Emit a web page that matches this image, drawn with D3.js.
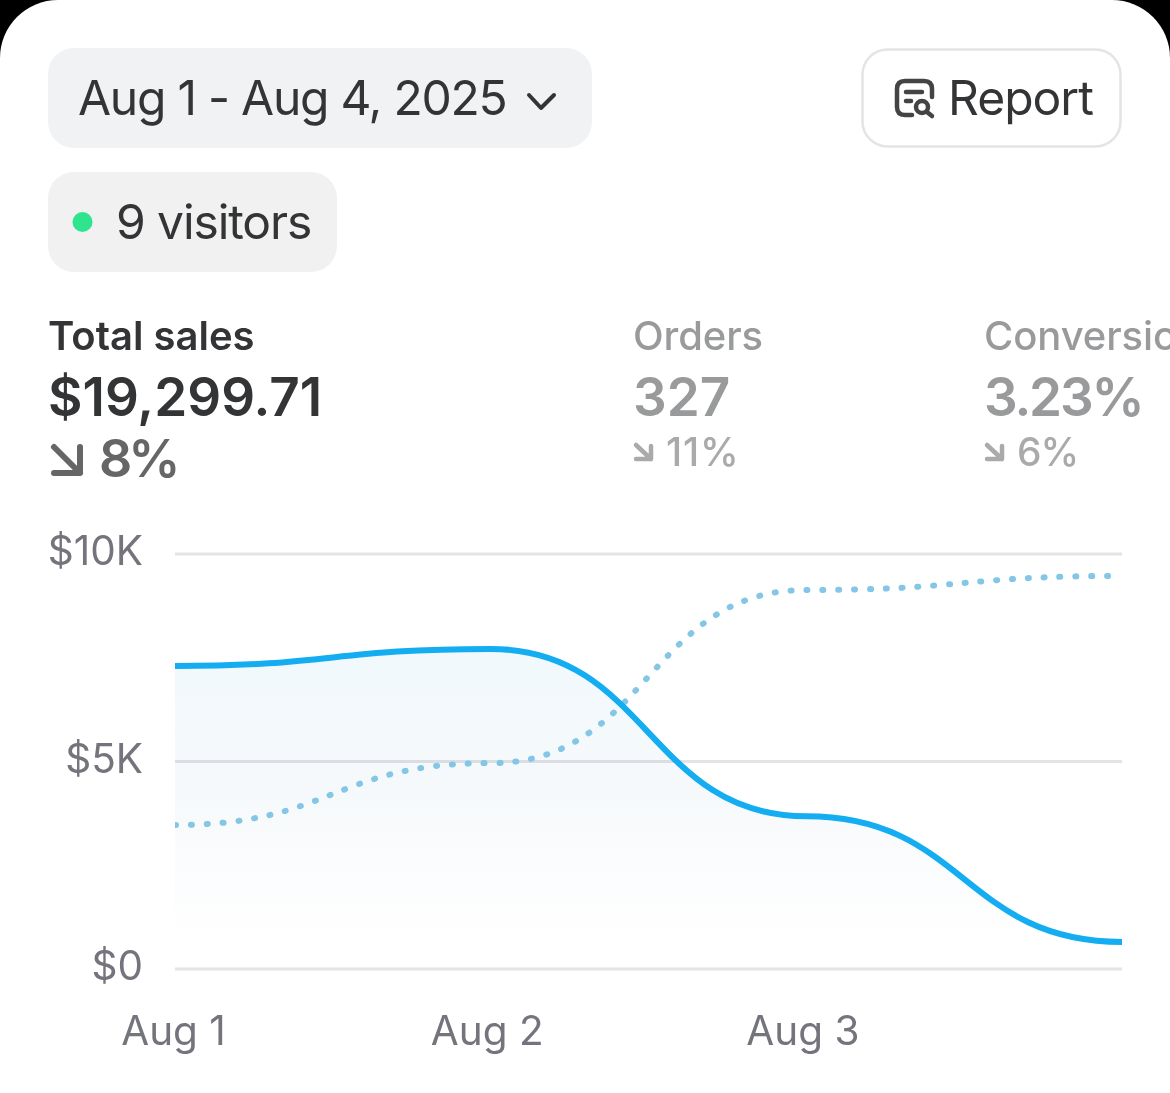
<!DOCTYPE html>
<html>
<head>
<meta charset="utf-8">
<style>
  html, body { margin: 0; padding: 0; background: #fff; overflow: hidden; }
  svg { display: block; font-family: Inter, "Noto Sans", sans-serif; }
</style>
<script src="https://cdn.jsdelivr.net/npm/d3@7"></script>
</head>
<body>
<svg></svg>
<script>
  const days = ['Aug 1', 'Aug 2', 'Aug 3', 'Aug 4'];
  const currentSales = [7290, 7700, 3670, 640];
  const previousSales = [3460, 4950, 9120, 9460];
  const yTicks = [0, 5000, 10000];
  const xTicks = ['Aug 1', 'Aug 2', 'Aug 3'];
  const kpiNames = ['Total sales', 'Orders', 'Conversion'];
  const kpiValues = ['$19,299.71', '327', '3.23%'];
  const kpiChanges = ['8%', '11%', '6%'];

  const width = 1170;
  const height = 1093;
  const margin = { top: 553.5, right: 48, bottom: 124.5, left: 175 };

  const svg = d3.select('svg')
      .attr('width', width)
      .attr('height', height);

  // phone screenshot: black corners behind the white card
  svg.append('rect').attr('width', width).attr('height', 100).attr('fill', '#000');
  svg.append('rect')
      .attr('width', width)
      .attr('height', height + 80)
      .attr('rx', 58)
      .attr('fill', '#fff');

  // header pills
  const ink = '#333436';
  svg.append('rect')
      .attr('x', 48).attr('y', 48).attr('width', 544).attr('height', 100)
      .attr('rx', 26).attr('fill', '#f1f2f4');
  svg.append('text')
      .attr('x', 78).attr('y', 115)
      .attr('font-size', 48).attr('letter-spacing', -1.25).attr('fill', ink)
      .text('Aug 1 - Aug 4, 2025');
  svg.append('path')
      .attr('d', 'M529 95L541 108L554 95')
      .attr('fill', 'none').attr('stroke', ink)
      .attr('stroke-width', 4).attr('stroke-linecap', 'round').attr('stroke-linejoin', 'round');

  svg.append('rect')
      .attr('x', 48).attr('y', 172).attr('width', 289).attr('height', 100)
      .attr('rx', 26).attr('fill', '#f1f1f2');
  svg.append('circle')
      .attr('cx', 82.5).attr('cy', 222).attr('r', 10).attr('fill', '#2ee48f');
  svg.append('text')
      .attr('x', 116).attr('y', 239)
      .attr('font-size', 48).attr('letter-spacing', -1.1).attr('fill', ink)
      .text('9 visitors');

  svg.append('rect')
      .attr('x', 862.5).attr('y', 49.5).attr('width', 258).attr('height', 97)
      .attr('rx', 25).attr('fill', '#fff')
      .attr('stroke', '#e3e4e5').attr('stroke-width', 2.5);
  const icon = svg.append('g')
      .attr('fill', 'none').attr('stroke', '#444').attr('stroke-width', 4.5)
      .attr('stroke-linecap', 'round').attr('stroke-linejoin', 'round');
  icon.append('path').attr('d', 'M912 115H905Q897 115 897 107V89Q897 81 905 81H924Q932 81 932 89V97');
  icon.append('path').attr('d', 'M906 92H922M906 101H911');
  icon.append('circle').attr('cx', 922).attr('cy', 107).attr('r', 6);
  icon.append('path').attr('d', 'M927 112L932 116');
  svg.append('text')
      .attr('x', 948).attr('y', 115)
      .attr('font-size', 48).attr('letter-spacing', -1).attr('fill', ink)
      .text('Report');

  // kpi row
  const kpiX = [49, 634, 985];
  const nameFill = [ink, '#999a9b', '#999a9b'];
  const changeFill = ['#666', '#aaa', '#aaa'];
  const valueSpacing = [0, 0, -2.2];
  const changeSpacing = [-4, 0.8, -1];
  kpiNames.forEach((name, i) => {
    const big = i === 0;
    svg.append('text')
        .attr('x', kpiX[i] - 1).attr('y', 350)
        .attr('font-size', 40).attr('font-weight', big ? 600 : 500)
        .attr('letter-spacing', big ? 0 : -0.1)
        .attr('fill', nameFill[i])
        .text(name);
    svg.append('text')
        .attr('x', kpiX[i] - 1).attr('y', 416)
        .attr('font-size', 53).attr('font-weight', 600)
        .attr('letter-spacing', valueSpacing[i])
        .attr('fill', nameFill[i])
        .text(kpiValues[i]);
    svg.append('path')
        .attr('d', big ? 'M54 447L80 473M80 447V473H54' : `M${kpiX[i] + 2} 445L${kpiX[i] + 17} 459M${kpiX[i] + 17} 446V459H${kpiX[i] + 2}`)
        .attr('fill', 'none').attr('stroke', changeFill[i])
        .attr('stroke-width', big ? 6 : 4.5)
        .attr('stroke-linecap', 'round').attr('stroke-linejoin', 'round');
    svg.append('text')
        .attr('x', kpiX[i] + (big ? 50 : 32)).attr('y', big ? 477 : 466)
        .attr('font-size', big ? 52 : 39).attr('font-weight', big ? 600 : 500)
        .attr('letter-spacing', changeSpacing[i])
        .attr('fill', changeFill[i])
        .text(kpiChanges[i]);
  });

  // chart
  const x = d3.scalePoint()
      .domain(days)
      .range([margin.left, width - margin.right]);
  const y = d3.scaleLinear()
      .domain([0, 10000])
      .range([height - margin.bottom, margin.top]);

  const defs = svg.append('defs');
  const gradient = defs.append('linearGradient')
      .attr('id', 'salesFill')
      .attr('x1', 0).attr('x2', 0).attr('y1', 0).attr('y2', 1);
  gradient.append('stop').attr('offset', '0%').attr('stop-color', '#f1f9fd');
  gradient.append('stop').attr('offset', '45%').attr('stop-color', '#f6f9fb');
  gradient.append('stop').attr('offset', '92%').attr('stop-color', '#ffffff');
  defs.append('clipPath').attr('id', 'plotClip')
    .append('rect')
      .attr('x', margin.left).attr('y', margin.top - 10)
      .attr('width', width - margin.left - margin.right)
      .attr('height', height - margin.top - margin.bottom + 20);

  const yAxis = d3.axisLeft(y)
      .tickValues(yTicks)
      .tickSize(-(width - margin.left - margin.right))
      .tickPadding(32)
      .tickFormat(d => d === 0 ? '$0' : `$${d / 1000}K`);
  const yAxisG = svg.append('g')
      .attr('transform', `translate(${margin.left},0)`)
      .call(yAxis)
      .attr('font-family', null);
  yAxisG.select('.domain').remove();
  yAxisG.selectAll('line').attr('stroke', '#e3e4e6').attr('stroke-width', 3);
  yAxisG.selectAll('text')
      .attr('font-size', 40.5)
      .attr('fill', '#74757c')
      .attr('dy', '0.28em');

  const xAxis = d3.axisBottom(x)
      .tickValues(xTicks)
      .tickSize(0)
      .tickPadding(48);
  const xAxisG = svg.append('g')
      .attr('transform', `translate(0,${height - margin.bottom})`)
      .call(xAxis)
      .attr('font-family', null);
  xAxisG.select('.domain').remove();
  xAxisG.selectAll('text')
      .attr('font-size', 40.5)
      .attr('fill', '#74757c')
      .attr('dx', (d, i) => [-2, -4, -4][i]);

  const curve = d3.curveBumpX;
  const area = d3.area()
      .x((d, i) => x(days[i]))
      .y0(y(0))
      .y1(d => y(d))
      .curve(curve);
  const line = d3.line()
      .x((d, i) => x(days[i]))
      .y(d => y(d))
      .curve(curve);

  svg.append('path')
      .datum(currentSales)
      .attr('d', area)
      .attr('fill', 'url(#salesFill)')
      .attr('style', 'mix-blend-mode:multiply');

  svg.append('path')
      .datum(previousSales)
      .attr('d', line)
      .attr('clip-path', 'url(#plotClip)')
      .attr('fill', 'none')
      .attr('stroke', '#84c6e6')
      .attr('stroke-width', 6)
      .attr('stroke-linecap', 'round')
      .attr('stroke-dasharray', '1 14.85');

  svg.append('path')
      .datum(currentSales)
      .attr('d', line)
      .attr('clip-path', 'url(#plotClip)')
      .attr('fill', 'none')
      .attr('stroke', '#15adf1')
      .attr('stroke-width', 6)
      .attr('stroke-linecap', 'round');
</script>
</body>
</html>
